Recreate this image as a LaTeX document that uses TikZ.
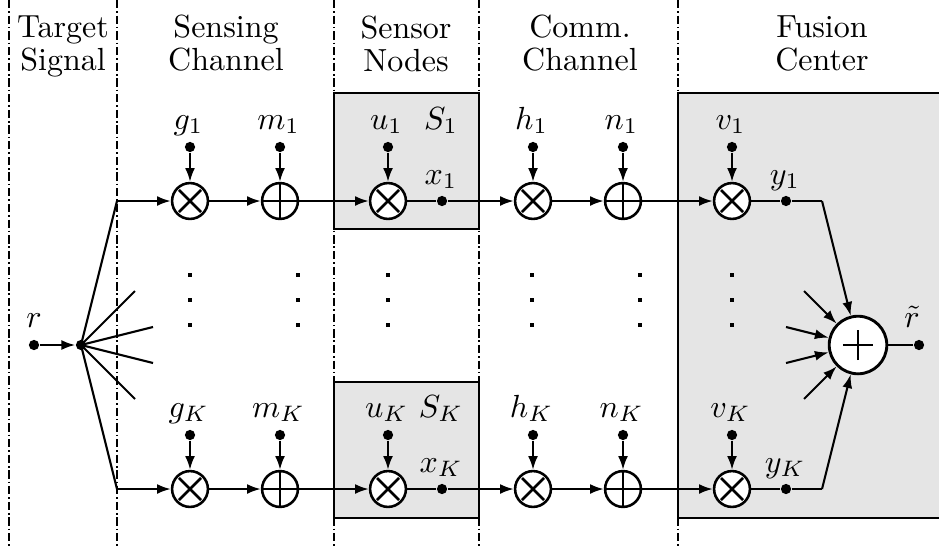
\documentclass[tikz,border=0pt]{standalone}
\usetikzlibrary{arrows.meta}
\begin{document}
\begin{tikzpicture}[
  x=0.3125pt,
  y=-0.3125pt,
  >={Latex[length=4.3pt,width=3.1pt]},
  every node/.style={font=\fontsize{10}{10.3}\selectfont},
  sig/.style={->, draw=black, line width=0.65pt},
  wire/.style={draw=black, line width=0.65pt},
  divider/.style={draw=black, line width=0.55pt, dash pattern=on 2.6pt off 0.9pt on 0.5pt off 0.9pt},
  stage/.style={draw=black, fill=black!10, line width=0.75pt},
  header/.style={align=center, inner sep=0pt},
  lab/.style={inner sep=0pt, anchor=base},
  tap/.style={circle, fill=black, inner sep=0pt, minimum size=3.2pt},
  skip/.style={fill=black, inner sep=0pt, minimum size=1.3pt},
  mult/.style={circle, draw=black, fill=white, line width=0.8pt, inner sep=0pt, minimum size=11.2pt,
    path picture={\draw[line width=0.8pt]
      ([shift={(-3.44pt,-3.44pt)}]path picture bounding box.center) -- ([shift={(3.44pt,3.44pt)}]path picture bounding box.center)
      ([shift={(-3.44pt,3.44pt)}]path picture bounding box.center) -- ([shift={(3.44pt,-3.44pt)}]path picture bounding box.center);}},
  adder/.style={circle, draw=black, fill=white, line width=0.8pt, inner sep=0pt, minimum size=11.2pt,
    path picture={\draw[line width=0.8pt]
      ([xshift=-6pt]path picture bounding box.center) -- ([xshift=6pt]path picture bounding box.center)
      ([yshift=-6pt]path picture bounding box.center) -- ([yshift=6pt]path picture bounding box.center);}},
  fuser/.style={circle, draw=black, fill=white, line width=0.9pt, inner sep=0pt, minimum size=18pt,
    path picture={\draw[line width=0.9pt]
      ([xshift=-4.7pt]path picture bounding box.center) -- ([xshift=4.7pt]path picture bounding box.center)
      ([yshift=-4.7pt]path picture bounding box.center) -- ([yshift=4.7pt]path picture bounding box.center);}}
]
  \useasboundingbox (0,0) rectangle (939,547);

  % column dividers
  \foreach \x in {9,117,334,479,678} {
    \draw[divider] (\x,0) -- (\x,547);
  }

  % shaded stages
  \draw[stage] (334,93) rectangle (479,229);
  \draw[stage] (334,382) rectangle (479,518);
  \draw[stage] (678,93) rectangle (950,518);

  % column titles
  \node[header] (hdtarget) at (63,46.6) {Target\\Signal};
  \node[header] (hdsensing) at (226,43.5) {Sensing\\Channel};
  \node[header] (hdnodes) at (406,43.5) {Sensor\\Nodes};
  \node[header] (hdcomm) at (580,43.5) {Comm.\\Channel};
  \node[header] (hdfusion) at (822,43.5) {Fusion\\Center};

  % source and fan-out
  \node[tap] (src) at (34,345) {};
  \node[tap] (fan) at (81,345) {};
  \node[lab] (srclab) at (34,327) {$r$};
  \draw[sig] (src) -- (fan);
  \coordinate (fan1) at (135,291);
  \coordinate (fan2) at (153,327);
  \coordinate (fan3) at (153,363);
  \coordinate (fan4) at (135,399);
  \foreach \n in {1,2,3,4} {
    \draw[wire] (fan.center) -- (fan\n);
  }

  % fusion output
  \node[fuser] (sum) at (858,345) {};
  \node[tap] (out) at (919,345) {};
  \node[lab] (outlab) at (912,327) {$\tilde r$};
  \draw[wire] (sum) -- (out);
  \coordinate (in1) at (804,291);
  \coordinate (in2) at (786,327);
  \coordinate (in3) at (786,363);
  \coordinate (in4) at (804,399);
  \foreach \n in {1,2,3,4} {
    \draw[sig] (in\n) -- (sum);
  }

  % the two branches
  \foreach \row/\y/\sub in {1/201/1,K/489/K} {
    \coordinate (split\row) at (117,\y);
    \node[mult] (g\row) at (190,\y) {};
    \node[adder] (m\row) at (280,\y) {};
    \node[mult] (u\row) at (388,\y) {};
    \node[tap] (x\row) at (442,\y) {};
    \node[mult] (h\row) at (533,\y) {};
    \node[adder] (n\row) at (623,\y) {};
    \node[mult] (v\row) at (732,\y) {};
    \node[tap] (y\row) at (786,\y) {};
    \coordinate (bend\row) at (822,\y);

    \draw[wire] (fan.center) -- (split\row);
    \draw[sig] (split\row) -- (g\row);
    \draw[sig] (g\row) -- (m\row);
    \draw[sig] (m\row) -- (u\row);
    \draw[wire] (u\row) -- (x\row);
    \draw[sig] (x\row) -- (h\row);
    \draw[sig] (h\row) -- (n\row);
    \draw[sig] (n\row) -- (v\row);
    \draw[wire] (v\row) -- (y\row) -- (bend\row);
    \draw[sig] (bend\row) -- (sum);

    % noise and gain inputs
    \foreach \n/\s in {g/g,m/m,u/u,h/h,n/n,v/v} {
      \node[tap] (\n\row in) at ([yshift=54*0.3125pt]\n\row) {};
      \node[lab] (\n\row lab) at ([xshift=-1.5*0.3125pt,yshift=72*0.3125pt]\n\row) {$\s_{\sub}$};
      \draw[sig] (\n\row in) -- (\n\row);
    }
    \node[lab] (S\row) at (441,\y-72) {$S_{\sub}$};
    \node[lab] (x\row lab) at (441,\y-17) {$x_{\sub}$};
    \node[lab] (y\row lab) at (785,\y-17) {$y_{\sub}$};
  }

  % elided branches
  \foreach \x in {190,298,388,532,640,732} {
    \foreach \y in {275,300,325} {
      \node[skip] at (\x,\y) {};
    }
  }
\end{tikzpicture}
\end{document}
